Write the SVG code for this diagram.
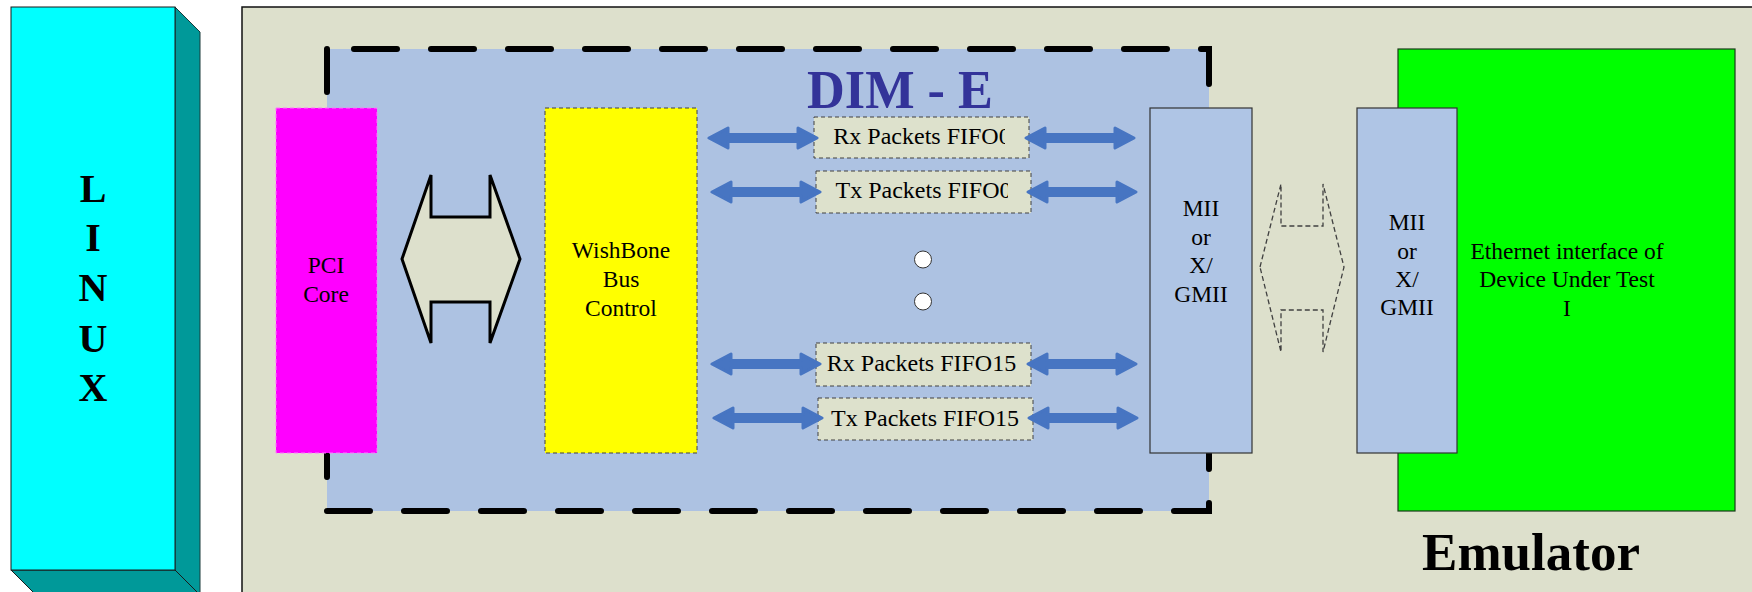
<svg xmlns="http://www.w3.org/2000/svg" width="1752" height="592" viewBox="0 0 1752 592">
  <style>
    .serif { font-family: "Liberation Serif", "Times New Roman", serif; fill: #000; }
    .lbl { font-size: 23.5px; text-anchor: middle; }
    .fifo-t { font-size: 24px; text-anchor: middle; }
    .fifo { fill: #DDE1CC; stroke: #404040; stroke-width: 1; stroke-dasharray: 4 3; }
    .mii { fill: #AFC5E5; stroke: #333; stroke-width: 1.2; }
    .barrow { fill: #4775C2; stroke: #4775C2; stroke-width: 3; stroke-linejoin: round; }
    .dot { fill: #fff; stroke: #333; stroke-width: 1; }
  </style>
  <defs>
    <!-- thick blue double-headed arrow, 108 long, centred on y=0 -->
    <path id="dblArrow" class="barrow" d="M0,0 L19,-10 L19,-3.5 L89,-3.5 L89,-10 L108,0 L89,10 L89,3.5 L19,3.5 L19,10 Z"/>
    <clipPath id="clipRx0"><rect x="814" y="115" width="191" height="45"/></clipPath>
    <clipPath id="clipTx0"><rect x="816" y="169" width="192" height="46"/></clipPath>
  </defs>

  <rect width="1752" height="592" fill="#fff"/>

  <!-- Linux host block (extruded) -->
  <g id="linux">
    <polygon points="175,7 200,32 200,596 175,570" fill="#009999" stroke="#1a3a3a" stroke-width="1"/>
    <polygon points="11,570 175,570 199,594 35,594" fill="#009999" stroke="#1a1a1a" stroke-width="1"/>
    <rect x="11" y="7" width="164" height="563" fill="#00FFFF" stroke="#1a1a1a" stroke-width="1"/>
    <g class="serif" font-size="40" font-weight="bold" text-anchor="middle">
      <text x="93" y="202">L</text>
      <text x="93" y="251">I</text>
      <text x="93" y="301">N</text>
      <text x="93" y="352">U</text>
      <text x="93" y="401">X</text>
    </g>
  </g>

  <!-- Emulator board -->
  <g id="emulator">
    <rect x="242" y="7" width="1600" height="700" fill="#DDE0CC" stroke="#111" stroke-width="1.5"/>
    <text class="serif" x="1531" y="570" font-size="53" font-weight="bold" text-anchor="middle">Emulator</text>
  </g>

  <!-- DIM-E region -->
  <g id="dim-e">
    <rect x="327" y="49" width="882" height="462" fill="#ADC2E2"/>
    <path d="M327,49 V511 H1209 V49 Z" fill="none" stroke="#000" stroke-width="6" stroke-linecap="round" stroke-dasharray="43 34"/>
    <text class="serif" x="900" y="108" font-size="55" font-weight="bold" text-anchor="middle" fill="#333399" style="fill:#333399" textLength="186" lengthAdjust="spacingAndGlyphs">DIM - E</text>
  </g>

  <g id="pci-core">
    <rect x="276" y="108" width="101" height="345" fill="#FF00FF" stroke="#FF77FF" stroke-width="1" stroke-dasharray="4 3"/>
    <text class="serif lbl" x="326" y="273">PCI</text>
    <text class="serif lbl" x="326" y="302">Core</text>
  </g>

  <g id="wishbone">
    <rect x="545" y="108" width="152" height="345" fill="#FFFF00" stroke="#404040" stroke-width="1" stroke-dasharray="4 3"/>
    <text class="serif lbl" x="621" y="258">WishBone</text>
    <text class="serif lbl" x="621" y="287">Bus</text>
    <text class="serif lbl" x="621" y="316">Control</text>
  </g>

  <g id="rx-fifo0">
    <rect class="fifo" x="814" y="117" width="215" height="41"/>
    <text class="serif fifo-t" x="922" y="144" clip-path="url(#clipRx0)">Rx Packets FIFO0</text>
  </g>
  <g id="tx-fifo0">
    <rect class="fifo" x="816" y="171" width="215" height="42"/>
    <text class="serif fifo-t" x="923.5" y="198" clip-path="url(#clipTx0)">Tx Packets FIFO0</text>
  </g>
  <g id="ellipsis">
    <circle class="dot" cx="923" cy="259.5" r="8.5"/>
    <circle class="dot" cx="923" cy="301.5" r="8.5"/>
  </g>
  <g id="rx-fifo15">
    <rect class="fifo" x="816" y="343" width="215" height="43"/>
    <text class="serif fifo-t" x="921.5" y="371">Rx Packets FIFO15</text>
  </g>
  <g id="tx-fifo15">
    <rect class="fifo" x="818" y="398" width="215" height="42"/>
    <text class="serif fifo-t" x="925" y="426">Tx Packets FIFO15</text>
  </g>

  <g id="mii-dim">
    <rect class="mii" x="1150" y="108" width="102" height="345"/>
    <text class="serif lbl" x="1201" y="216">MII</text>
    <text class="serif lbl" x="1201" y="245">or</text>
    <text class="serif lbl" x="1201" y="273">X/</text>
    <text class="serif lbl" x="1201" y="302">GMII</text>
  </g>

  <g id="dut">
    <rect x="1398" y="49" width="337" height="462" fill="#00FF00" stroke="#1a3a1a" stroke-width="1.2"/>
    <text class="serif lbl" x="1567" y="259">Ethernet interface of</text>
    <text class="serif lbl" x="1567" y="287">Device Under Test</text>
    <text class="serif lbl" x="1567" y="316">I</text>
  </g>

  <g id="mii-dut">
    <rect class="mii" x="1357" y="108" width="100" height="345"/>
    <text class="serif lbl" x="1407" y="230">MII</text>
    <text class="serif lbl" x="1407" y="259">or</text>
    <text class="serif lbl" x="1407" y="287">X/</text>
    <text class="serif lbl" x="1407" y="315">GMII</text>
  </g>

  <!-- connectors -->
  <g id="connectors">
    <!-- PCI core <-> WishBone bus -->
    <polygon points="402,259 431,175 431,217 490,217 490,175 520,259 490,343 490,302 431,302 431,343" fill="#DDE0CC" stroke="#000" stroke-width="3" stroke-linejoin="miter"/>
    <!-- WishBone <-> FIFOs <-> MII -->
    <use href="#dblArrow" x="709" y="138"/>
    <use href="#dblArrow" x="1026" y="138"/>
    <use href="#dblArrow" x="712" y="192"/>
    <use href="#dblArrow" x="1028" y="192"/>
    <use href="#dblArrow" x="712" y="364"/>
    <use href="#dblArrow" x="1028" y="364"/>
    <use href="#dblArrow" x="714" y="418"/>
    <use href="#dblArrow" x="1029" y="418"/>
    <!-- MII link between DIM-E and device under test -->
    <polygon points="1260,267 1281,184 1281,226 1323,226 1323,184 1344,267 1323,352 1323,310 1281,310 1281,352" fill="none" stroke="#404040" stroke-width="1.3" stroke-dasharray="5 3"/>
  </g>
</svg>
